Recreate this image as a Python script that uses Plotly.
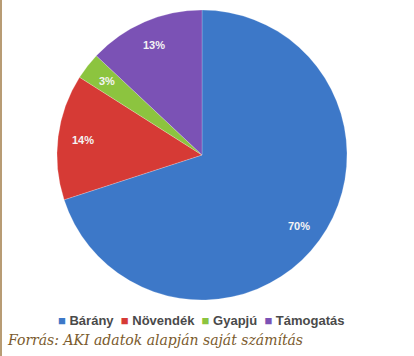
import math
import plotly.graph_objects as go

labels = ["Bárány", "Növendék", "Gyapjú", "Támogatás"]
values = [70, 14, 3, 13]
colors = ["#3d78c8", "#d63a35", "#8cc43f", "#7b52b5"]
source_text = "Forrás: AKI adatok alapján saját számítás"

W, H = 414, 356
# pie placement in pixels
CX, CY, R = 202, 155, 145

fig = go.Figure(go.Pie(
    labels=labels,
    values=values,
    sort=False,
    direction="clockwise",
    rotation=0,
    marker=dict(colors=colors, line=dict(color="rgba(255,255,255,0.35)", width=0.6)),
    textinfo="none",
    domain=dict(x=[(CX - R) / W, (CX + R) / W], y=[1 - (CY + R) / H, 1 - (CY - R) / H]),
    hoverinfo="label+percent",
    showlegend=False,
))

annotations = []
# slice percentage labels, positioned from the data (mid-angle of each slice)
total = sum(values)
cum = 0
for v in values:
    mid = (cum + v / 2) / total * 2 * math.pi
    cum += v
    px = CX + 0.83 * R * math.sin(mid)
    py = CY - 0.83 * R * math.cos(mid)
    annotations.append(dict(
        text=f"{round(100 * v / total)}%",
        x=px / W, y=1 - py / H, xref="paper", yref="paper",
        xanchor="center", yanchor="middle", showarrow=False,
        font=dict(size=11, color="#f4f4f4", family="Liberation Sans, Arial, sans-serif", weight="bold"),
    ))

# compact legend as text
legend_text = "  ".join(
    f"<span style='color:{c};font-size:13px'>■</span> {lab}" for lab, c in zip(labels, colors)
)
annotations.append(dict(
    text=legend_text,
    x=201 / W, y=1 - 320 / H, xref="paper", yref="paper",
    xanchor="center", yanchor="middle", showarrow=False,
    font=dict(size=13, color="#4a4a4a", family="Liberation Sans, Arial, sans-serif", weight="bold"),
))

annotations.append(dict(
    text=source_text,
    x=5 / W, y=1 - 340 / H,
    xref="paper", yref="paper",
    xanchor="left", yanchor="middle",
    showarrow=False,
    font=dict(size=14, color="#7a5a2c", family="DejaVu Serif, Liberation Serif, serif", style="italic"),
))

fig.update_layout(
    width=W, height=H,
    margin=dict(l=0, r=0, t=0, b=0),
    paper_bgcolor="white",
    plot_bgcolor="white",
    annotations=annotations,
    shapes=[dict(
        type="line", xref="paper", yref="paper",
        x0=1 / W, x1=1 / W, y0=0, y1=1,
        line=dict(color="#b89c74", width=2),
    )],
)

fig.write_html("out.html")
